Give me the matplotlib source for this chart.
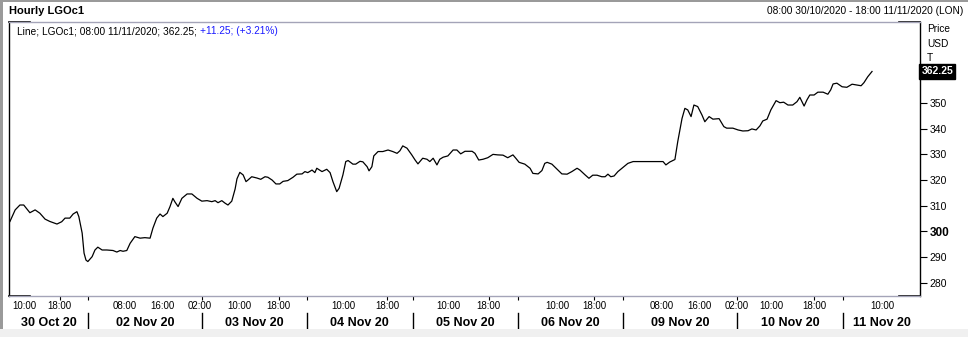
import matplotlib.pyplot as plt
from matplotlib.patches import Rectangle
from matplotlib.lines import Line2D
import matplotlib.transforms as mtransforms

plt.rcParams['font.family'] = ['Liberation Sans', 'DejaVu Sans']

# Datos: índice de barra horaria (sólo horas de negociación) y precio
hour_idx = [0.0, 1.1, 2.1, 2.9, 4.2, 5.3, 6.3, 7.4, 8.4, 9.9, 10.9, 11.6, 12.6, 13.3, 14.1,
            14.5, 15.2, 15.6, 16.0, 16.4, 17.3, 17.9, 18.5, 19.4, 20.4, 21.7, 22.5, 23.2,
            23.8, 24.6, 25.3, 26.3, 27.4, 28.4, 29.5, 30.1, 30.9, 31.6, 32.2, 33.1, 33.7,
            34.3, 34.7, 35.4, 36.2, 37.3, 38.3, 39.4, 40.4, 41.5, 42.5, 43.2, 43.8, 44.6,
            45.3, 45.9, 46.7, 47.4, 47.8, 48.4, 49.1, 49.7, 50.1, 50.9, 52.0, 52.8, 53.7,
            54.3, 55.2, 56.0, 56.8, 57.5, 58.5, 59.6, 60.4, 61.5, 62.1, 62.7, 63.6, 64.2,
            64.6, 65.7, 66.7, 67.4, 68.0, 68.8, 69.3, 70.1, 70.7, 71.2, 72.2, 72.8, 73.7,
            74.3, 75.2, 75.6, 76.2, 76.6, 77.5, 78.5, 79.6, 80.6, 81.5, 82.1, 82.7, 83.6,
            84.6, 85.3, 85.9, 86.9, 87.8, 88.4, 89.1, 89.9, 90.5, 91.2, 92.2, 93.3, 94.1,
            94.9, 95.8, 97.3, 97.9, 98.7, 99.6, 100.6, 101.7, 102.7, 103.8, 104.8, 105.9,
            106.5, 107.2, 108.4, 109.5, 110.1, 111.2, 112.0, 112.6, 113.1, 114.1, 115.2,
            116.2, 117.3, 118.3, 119.4, 120.0, 121.1, 121.9, 122.7, 123.6, 124.6, 125.3,
            125.9, 126.5, 127.2, 128.0, 129.1, 130.1, 131.2, 134.1, 137.5, 138.1, 138.9,
            140.0, 140.6, 141.5, 142.1, 142.7, 143.4, 144.0, 144.8, 145.7, 146.3, 147.2,
            148.0, 149.3, 150.3, 150.9, 152.2, 153.3, 154.3, 155.4, 156.2, 157.1, 157.9,
            158.5, 159.4, 160.2, 161.3, 162.1, 162.9, 163.8, 164.8, 165.7, 166.3, 167.2,
            167.8, 168.4, 169.3, 170.1, 171.2, 172.2, 172.8, 173.3, 174.1, 175.2, 176.2,
            177.3, 178.3, 179.2, 179.8, 180.6, 181.5]
price = [303.9, 308.4, 310.3, 310.3, 307.3, 308.4, 307.1, 304.8, 303.9, 302.9, 303.8, 305.2,
         305.2, 306.8, 307.7, 305.8, 299.4, 291.6, 288.9, 288.3, 290.2, 292.8, 293.9, 292.8,
         292.8, 292.6, 292.0, 292.6, 292.3, 292.6, 295.4, 298.0, 297.4, 297.6, 297.4, 301.3,
         305.2, 306.8, 305.8, 307.1, 309.7, 312.9, 311.6, 309.7, 312.9, 314.6, 314.6, 312.9,
         311.8, 312.0, 311.6, 312.0, 311.2, 312.0, 311.0, 310.3, 311.8, 316.5, 320.5, 323.0,
         322.0, 319.4, 320.0, 321.3, 320.8, 320.3, 321.3, 321.1, 320.0, 318.5, 318.5, 319.5,
         319.8, 321.1, 322.3, 322.4, 323.3, 322.9, 323.9, 322.9, 324.6, 323.3, 324.2, 322.9,
         319.4, 315.5, 316.8, 322.0, 327.2, 327.6, 326.2, 326.2, 327.3, 327.1, 325.2, 323.6,
         325.2, 329.4, 331.1, 331.1, 331.7, 331.1, 330.4, 331.4, 333.3, 332.4, 329.8, 327.8,
         326.3, 328.5, 328.1, 327.2, 328.5, 325.9, 328.1, 328.9, 329.4, 331.7, 331.7, 330.2,
         331.2, 331.2, 330.4, 327.8, 328.1, 328.7, 330.0, 329.8, 329.7, 328.7, 329.8, 328.5,
         326.9, 326.2, 324.6, 322.6, 322.4, 323.7, 326.5, 326.9, 326.2, 324.2, 322.4, 322.3,
         323.3, 324.6, 323.9, 322.0, 320.7, 321.9, 321.9, 321.3, 321.3, 322.3, 321.3, 321.6,
         323.3, 325.0, 326.5, 327.2, 327.2, 327.2, 325.9, 327.0, 328.0, 335.0, 344.0, 347.9,
         347.3, 344.7, 349.2, 348.6, 345.3, 342.7, 344.7, 343.7, 343.9, 340.8, 340.2, 340.2,
         339.5, 339.1, 339.2, 339.9, 339.5, 341.1, 343.0, 343.7, 347.3, 350.9, 350.1, 350.3,
         349.2, 349.2, 350.5, 352.2, 348.8, 351.2, 353.1, 353.1, 354.2, 354.2, 353.4, 355.1,
         357.4, 357.7, 356.3, 356.1, 357.3, 357.0, 356.7, 357.9, 360.2, 362.25]

# Etiquetas del eje x
hour_ticks = [3.0, 10.5, 24.2, 32.2, 40.0, 48.4, 56.6, 70.1, 79.4, 92.2, 100.8,
              115.2, 123.0, 137.3, 145.1, 153.1, 160.4, 169.3, 183.6]
hour_labels = ['10:00', '18:00', '08:00', '16:00', '02:00', '10:00', '18:00', '10:00', '18:00',
               '10:00', '18:00', '10:00', '18:00', '08:00', '16:00', '02:00', '10:00', '18:00',
               '10:00']
day_breaks = [16.4, 40.4, 62.5, 84.8, 107.0, 129.1, 153.1, 175.4]
day_labels = ['30 Oct 20', '02 Nov 20', '03 Nov 20', '04 Nov 20', '05 Nov 20',
              '06 Nov 20', '09 Nov 20', '10 Nov 20', '11 Nov 20']
y_ticks = [280, 290, 300, 310, 320, 330, 340, 350, 360]

x_min, x_max = -0.2, 191.6
y_min, y_max = 274.9, 381.5

fig = plt.figure(figsize=(9.68, 3.37), dpi=100)
ax = fig.add_axes([9 / 968, 41 / 337, 911 / 968, 274 / 337])

ax.plot(hour_idx, price, color='black', lw=0.9)
ax.set_xlim(x_min, x_max)
ax.set_ylim(y_min, y_max)

# Bordes: laterales negros, superior e inferior grises con esquinas negras
grey = '#a4a4b8'
ax.spines['left'].set_color('black')
ax.spines['right'].set_color('black')
ax.spines['top'].set_color(grey)
ax.spines['bottom'].set_color(grey)
for s in ax.spines.values():
    s.set_linewidth(1.0)
corner = 21 / 911
for x0, x1, yy in [(0, corner, 0), (0, corner, 1), (1 - corner, 1, 0), (1 - corner, 1, 1)]:
    ax.add_line(Line2D([x0, x1], [yy, yy], transform=ax.transAxes, color='black',
                       lw=1.2, clip_on=False))

# Eje y a la derecha (el 360 queda tapado por la caja del último precio)
ax.yaxis.tick_right()
ax.set_yticks(y_ticks)
ax.set_yticklabels(['' if v == 360 else str(v) for v in y_ticks])
ax.tick_params(axis='y', direction='out', length=5, width=0.8, pad=2, labelsize=7.5)
for lab in ax.get_yticklabels():
    if lab.get_text() == '300':
        lab.set_fontweight('bold')
        lab.set_fontsize(8.5)

# Eje x: marcas pequeñas en separadores y etiquetas propias
ax.set_xticks(day_breaks + [hour_ticks[i] for i, l in enumerate(hour_labels) if l == '18:00'])
ax.set_xticklabels([])
ax.tick_params(axis='x', direction='out', length=3, width=0.8, color='black')

trans = mtransforms.blended_transform_factory(ax.transData, ax.transAxes)
for xt, lab in zip(hour_ticks, hour_labels):
    ax.text(xt, -0.036, lab, transform=trans, ha='center', va='center', fontsize=7)
edges = [x_min] + day_breaks + [x_max]
for i, lab in enumerate(day_labels):
    ax.text((edges[i] + edges[i + 1]) / 2, -0.097, lab, transform=trans, ha='center',
            va='center', fontsize=9, fontweight='bold')
for xb in day_breaks:
    ax.add_line(Line2D([xb, xb], [-0.062, -0.125], transform=trans, color='black',
                       lw=1.0, clip_on=False))

# Caja con el último precio
ax.annotate(f'{price[-1]:.2f}', xy=(1.0, price[-1]), xycoords=('axes fraction', 'data'),
            xytext=(1, 0), textcoords='offset points', ha='left', va='center',
            fontsize=7.5, fontweight='bold', color='white', zorder=10,
            bbox=dict(boxstyle='square,pad=0.2', fc='black', ec='black'))

# Textos de cabecera
fig.text(9 / 968, 1 - 11 / 337, 'Hourly LGOc1', fontsize=8, fontweight='bold',
         ha='left', va='center')
fig.text(963 / 968, 1 - 11 / 337, '08:00 30/10/2020 - 18:00 11/11/2020 (LON)',
         fontsize=7.3, ha='right', va='center')
fig.text(927 / 968, 1 - 29 / 337, 'Price', fontsize=7.3, ha='left', va='center')
fig.text(927 / 968, 1 - 44 / 337, 'USD', fontsize=7.3, ha='left', va='center')
fig.text(927 / 968, 1 - 58 / 337, 'T', fontsize=7.3, ha='left', va='center')

t1 = ax.text(0.009, 0.967, 'Line; LGOc1; 08:00 11/11/2020; 362.25; ', transform=ax.transAxes,
             fontsize=7.3, ha='left', va='center')
ax.annotate('+11.25; (+3.21%)', xy=(1, 0.5), xycoords=t1, ha='left', va='center',
            fontsize=7.3, color='#1a1aff')

# Marco exterior de la ventana
fig.patches.append(Rectangle((0, 0), 1, 8 / 337, transform=fig.transFigure,
                             fc='#f0f0f0', ec='none'))
fig.patches.append(Rectangle((0, 8 / 337), 3 / 968, 1 - 8 / 337, transform=fig.transFigure,
                             fc='#9a9a9a', ec='none'))
fig.patches.append(Rectangle((0, 1 - 2 / 337), 1, 2 / 337, transform=fig.transFigure,
                             fc='#9a9a9a', ec='none'))

fig.savefig('out.png', dpi=100)
